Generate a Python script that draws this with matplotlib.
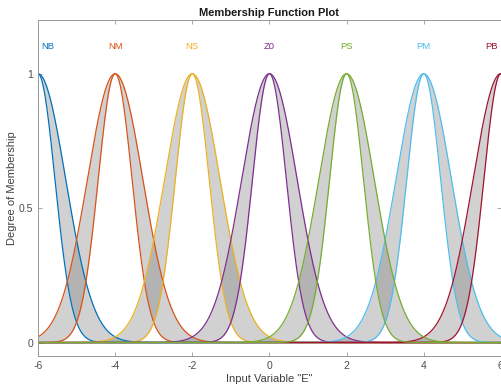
import numpy as np
import matplotlib
matplotlib.use('Agg')
import matplotlib.pyplot as plt

plt.rcParams['font.family'] = ['Liberation Sans', 'DejaVu Sans']
plt.rcParams['axes.unicode_minus'] = False

# membership functions of input "E"
names = ['NB', 'NM', 'NS', 'Z0', 'PS', 'PM', 'PB']
centers = [-6, -4, -2, 0, 2, 4, 6]
sigma_upper = [0.72, 0.72, 0.72, 0.72, 0.72, 0.72, 0.72]
sigma_lower = [0.44, 0.44, 0.44, 0.44, 0.44, 0.44, 0.44]
label_x = [-5.75, -4, -2, 0, 2, 4, 5.75]
colors = ['#0072BD', '#D95319', '#EDB120', '#7E2F8E', '#77AC30', '#4DBEEE', '#A2142F']

x = np.linspace(-6, 6, 1201)

fig = plt.figure(figsize=(5.02, 3.88), dpi=100)
ax = fig.add_axes([0.0757, 0.0825, 0.922, 0.866])

for i, name in enumerate(names):
    up = np.exp(-0.5 * ((x - centers[i]) / sigma_upper[i]) ** 2)
    lo = np.exp(-0.5 * ((x - centers[i]) / sigma_lower[i]) ** 2)
    z = 3 if name == 'PS' else 2
    ax.fill_between(x, lo, up, color='0.5', alpha=0.36, linewidth=0, zorder=1)
    ax.plot(x, up, color=colors[i], lw=0.9, zorder=z)
    ax.plot(x, lo, color=colors[i], lw=0.9, zorder=z)
    ax.text(label_x[i], 1.1, name, color=colors[i], fontsize=6.8, ha='center', va='center')

ax.set_xlim(-6, 6)
ax.set_ylim(-0.05, 1.2)
ax.set_xticks([-6, -4, -2, 0, 2, 4, 6])
ax.set_yticks([0, 0.5, 1])
ax.set_yticklabels(['0', '0.5', '1'])
ax.tick_params(direction='in', top=True, right=True, length=3, width=0.6,
               colors='0.6', labelcolor='0.3', labelsize=7.5)
for s in ax.spines.values():
    s.set_color('0.6')
    s.set_linewidth(0.7)

ax.set_xlabel('Input Variable "E"', fontsize=8, color='0.25', labelpad=2)
ax.set_ylabel('Degree of Membership', fontsize=8, color='0.25', labelpad=1)
ax.set_title('Membership Function Plot', fontsize=8, fontweight='bold', color='0.1', pad=3)

fig.savefig('out.png', dpi=100)
